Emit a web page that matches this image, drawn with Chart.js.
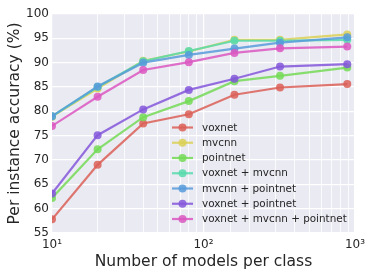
<!DOCTYPE html>
<html>
<head>
<meta charset="utf-8">
<script src="https://cdn.jsdelivr.net/npm/chart.js@4"></script>
<style>
  html, body { margin: 0; padding: 0; background: #fff; }
  #wrap { width: 374px; height: 280px; }
</style>
</head>
<body>
<div id="wrap"><canvas id="myChart"></canvas></div>
<script>
const modelsPerClass = [10, 20, 40, 80, 160, 320, 889];
const seriesNames = ['voxnet', 'mvcnn', 'pointnet', 'voxnet + mvcnn', 'mvcnn + pointnet', 'voxnet + pointnet', 'voxnet + mvcnn + pointnet'];
const voxnet = [57.8, 69.0, 77.5, 79.4, 83.4, 84.9, 85.6];
const mvcnn = [78.9, 84.7, 90.4, 92.3, 94.7, 94.7, 95.8];
const pointnet = [62.2, 72.2, 78.8, 82.1, 86.2, 87.3, 89.0];
const voxnetMvcnn = [79.0, 85.0, 90.3, 92.4, 94.5, 94.5, 94.7];
const mvcnnPointnet = [79.0, 85.1, 90.0, 91.6, 92.9, 94.1, 95.2];
const voxnetPointnet = [63.1, 75.1, 80.4, 84.4, 86.7, 89.2, 89.7];
const allThree = [77.0, 83.0, 88.5, 90.1, 92.0, 92.95, 93.3];
const yTicks = [55, 60, 65, 70, 75, 80, 85, 90, 95, 100];
const xTickLabels = { 10: '10\u00b9', 100: '10\u00b2', 1000: '10\u00b3' };

const colors = ['rgba(219,95,87,0.85)', 'rgba(219,208,87,0.85)', 'rgba(116,219,87,0.85)', 'rgba(87,219,171,0.85)',
    'rgba(87,155,219,0.85)', 'rgba(132,87,219,0.85)', 'rgba(219,87,193,0.85)'];
const allSeries = [voxnet, mvcnn, pointnet, voxnetMvcnn, mvcnnPointnet, voxnetPointnet, allThree];
const textColor = '#262626';
const font = 'DejaVu Sans';

const datasets = allSeries.map((vals, i) => ({
    label: seriesNames[i],
    data: vals.map((v, j) => ({ x: modelsPerClass[j], y: v })),
    borderColor: colors[i],
    backgroundColor: colors[i],
    pointBackgroundColor: colors[i],
    pointBorderWidth: 0,
    pointRadius: 4,
    borderWidth: 2.2,
    order: -i,
}));

// grey plot background
const plotBg = {
    id: 'plotBg',
    beforeDraw(chart) {
        const a = chart.chartArea;
        const c = chart.ctx;
        c.save();
        c.fillStyle = '#eaeaf2';
        c.fillRect(a.left, a.top, a.right - a.left, a.bottom - a.top);
        c.restore();
    }
};

// legend inside the plot, lower right, no frame
const innerLegend = {
    id: 'innerLegend',
    afterDraw(chart) {
        const a = chart.chartArea;
        const c = chart.ctx;
        const x0 = a.left + 120;
        let y = a.top + 113.5;
        c.save();
        c.font = '10.4px "' + font + '"';
        c.textBaseline = 'middle';
        chart.data.datasets.forEach(ds => {
            c.strokeStyle = ds.borderColor;
            c.fillStyle = ds.borderColor;
            c.lineWidth = 2.2;
            c.beginPath();
            c.moveTo(x0, y);
            c.lineTo(x0 + 21, y);
            c.stroke();
            c.beginPath();
            c.arc(x0 + 10.5, y, 4, 0, Math.PI * 2);
            c.fill();
            c.fillStyle = textColor;
            c.fillText(ds.label, x0 + 30, y + 0.5);
            y += 15.25;
        });
        c.restore();
    }
};

const ctx = document.getElementById('myChart');

let newChart = new Chart(ctx, {
    type: 'line',
    data: { datasets: datasets },
    options: {
        responsive: true,
        maintainAspectRatio: false,
        animation: false,
        layout: { padding: { top: 14, right: 19, left: 0, bottom: 0 } },
        plugins: {
            legend: { display: false },
            tooltip: { enabled: false },
        },
        scales: {
            x: {
                type: 'logarithmic',
                min: 10,
                max: 1000,
                border: { display: false },
                grid: {
                    color: '#ffffff',
                    drawTicks: false,
                    lineWidth: (c) => (c.tick && xTickLabels[c.tick.value]) ? 1.2 : 0.8,
                },
                ticks: {
                    autoSkip: false,
                    maxRotation: 0,
                    padding: 5,
                    color: textColor,
                    font: { family: font, size: 12 },
                    callback: (v) => xTickLabels[v] || '',
                },
                title: {
                    display: true,
                    text: 'Number of models per class',
                    color: textColor,
                    font: { family: font, size: 15.5 },
                    padding: { top: 0, bottom: 8.5 },
                },
                afterFit: (scale) => { scale.height = 47; },
            },
            y: {
                min: 55,
                max: 100,
                border: { display: false },
                grid: { color: '#ffffff', drawTicks: false, lineWidth: 1.2 },
                afterBuildTicks: (scale) => { scale.ticks = yTicks.map(v => ({ value: v })); },
                ticks: {
                    padding: 3,
                    color: textColor,
                    font: { family: font, size: 12 },
                },
                title: {
                    display: true,
                    text: 'Per instance accuracy (%)',
                    color: textColor,
                    font: { family: font, size: 15.5 },
                    padding: { top: 5.5, bottom: 0 },
                },
                afterFit: (scale) => { scale.width = 52; },
            }
        }
    },
    plugins: [plotBg, innerLegend]
});
</script>
</body>
</html>
